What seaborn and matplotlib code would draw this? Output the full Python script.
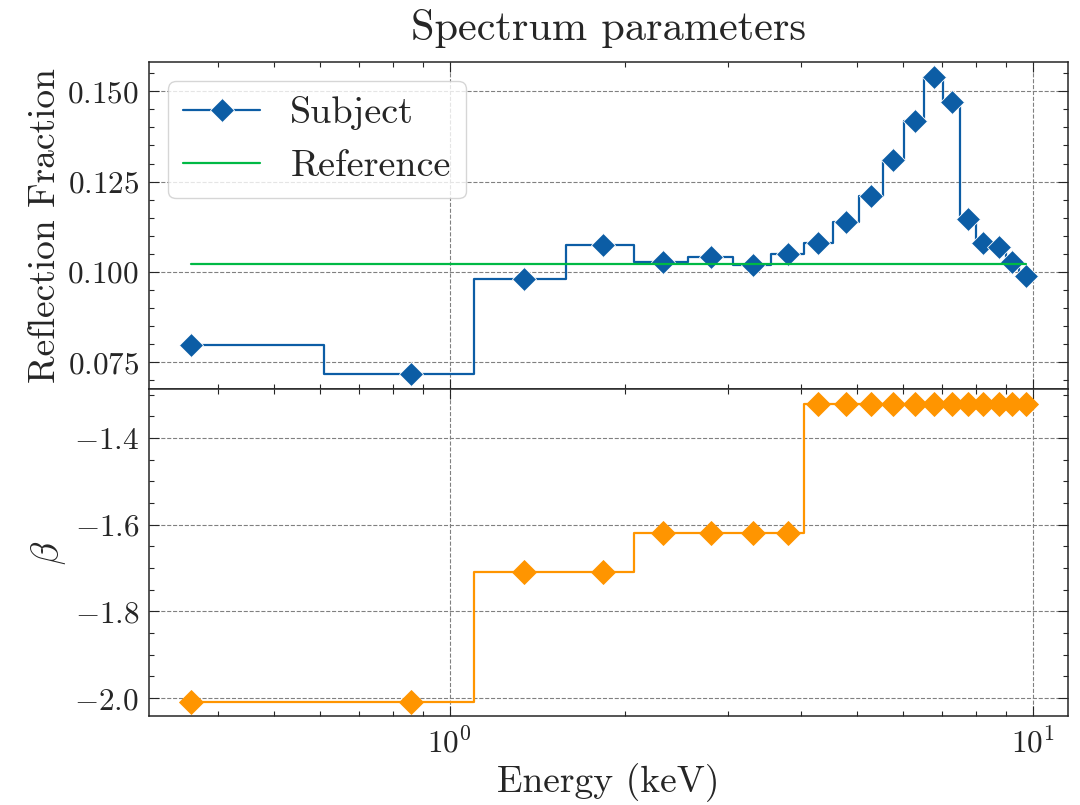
import numpy as np
import pandas as pd
import matplotlib
matplotlib.use('Agg')
import matplotlib.pyplot as plt
from matplotlib.ticker import MultipleLocator
import seaborn as sns

# values
energy = [0.36, 0.86, 1.34, 1.83, 2.32, 2.81, 3.31, 3.80, 4.29, 4.79,
          5.29, 5.77, 6.27, 6.76, 7.26, 7.73, 8.23, 8.74, 9.23, 9.75]
refl_frac = [0.0798, 0.0716, 0.0980, 0.1075, 0.1028, 0.1040, 0.1019, 0.1049, 0.1079, 0.1137,
             0.1211, 0.1311, 0.1419, 0.1540, 0.1470, 0.1146, 0.1080, 0.1068, 0.1028, 0.0989]
ref_value = 0.1023
beta = [-2.008, -2.008, -1.71, -1.71, -1.62, -1.62, -1.62, -1.62, -1.322, -1.322,
        -1.322, -1.322, -1.322, -1.322, -1.322, -1.322, -1.322, -1.322, -1.322, -1.322]

df = pd.DataFrame({'energy': energy, 'refl': refl_frac, 'beta': beta})
df['ref'] = ref_value

sns.set_style('ticks')
plt.rcParams['font.family'] = 'serif'
plt.rcParams['font.serif'] = ['cmr10', 'DejaVu Serif']
plt.rcParams['mathtext.fontset'] = 'cm'
plt.rcParams['axes.formatter.use_mathtext'] = True
plt.rcParams['axes.unicode_minus'] = True

blue = '#0C5DA5'
green = '#00B945'
orange = '#FF9500'

fig, (ax1, ax2) = plt.subplots(2, 1, sharex=True, figsize=(10.8, 8.05), dpi=100,
                               gridspec_kw=dict(hspace=0))
fig.subplots_adjust(left=0.138, right=0.989, top=0.923, bottom=0.110)

sns.lineplot(data=df, x='energy', y='refl', ax=ax1, color=blue, lw=1.6,
             marker='D', markersize=12, markeredgecolor='w', markeredgewidth=0.6,
             drawstyle='steps-mid', label='Subject')
sns.lineplot(data=df, x='energy', y='ref', ax=ax1, color=green, lw=1.6, label='Reference')
sns.lineplot(data=df, x='energy', y='beta', ax=ax2, color=orange, lw=1.6,
             marker='D', markersize=12, markeredgecolor=orange, markeredgewidth=0.6,
             drawstyle='steps-mid', legend=False)

ax1.set_xscale('log')
ax1.yaxis.set_major_locator(MultipleLocator(0.025))
ax1.yaxis.set_minor_locator(MultipleLocator(0.005))
ax2.yaxis.set_major_locator(MultipleLocator(0.2))
ax2.yaxis.set_minor_locator(MultipleLocator(0.05))
ax1.yaxis.set_major_formatter(matplotlib.ticker.FormatStrFormatter(r'$%.3f$'))
ax2.yaxis.set_major_formatter(matplotlib.ticker.FormatStrFormatter(r'$%.1f$'))

for ax in (ax1, ax2):
    ax.grid(True, which='major', ls='--', color='0.5', lw=0.8)
    ax.tick_params(which='both', direction='in', top=True, right=True, labelsize=22.5, pad=7)
    ax.tick_params(which='major', length=7, width=0.8)
    ax.tick_params(which='minor', length=3.5, width=0.8)
    for s in ax.spines.values():
        s.set_linewidth(1.1)

ax1.set_xlabel('')
ax1.set_ylabel('Reflection Fraction', fontsize=27)
ax2.set_ylabel(r'$\beta$', fontsize=27)
ax2.set_xlabel('Energy (keV)', fontsize=27)
ax1.set_title('Spectrum parameters', fontsize=30.5, pad=16)

ax1.legend(loc='upper left', fontsize=27.5, frameon=True, fancybox=True,
           edgecolor='0.8', framealpha=0.8)

fig.savefig('out.png', dpi=100)
